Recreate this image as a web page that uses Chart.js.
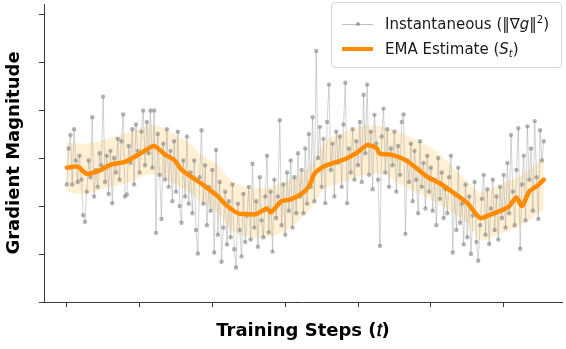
<!DOCTYPE html>
<html>
<head>
<meta charset="utf-8">
<script src="https://cdn.jsdelivr.net/npm/chart.js@4.4.1/dist/chart.umd.min.js"></script>
<style>
  body { margin: 0; background: #fff; }
  #wrap { position: relative; width: 566px; height: 349px; }
  #legendBox {
    position: absolute; left: 331px; top: 2px; width: 229px; height: 64px;
    border: 1px solid #d6d6d6; border-radius: 4px; background: rgba(255,255,255,0.85);
    font-family: 'DejaVu Sans', sans-serif; font-size: 15px; color: #1a1a1a;
  }
  .row { position: absolute; left: 0; height: 20px; line-height: 20px; white-space: nowrap; }
  .sample { position: absolute; left: 10px; width: 31px; }
  .lbl { position: absolute; left: 53px; top: 0; }
  sup { font-size: 10px; vertical-align: 6px; line-height: 0; }
  sub { font-size: 10px; vertical-align: -3px; line-height: 0; }
</style>
</head>
<body>
<div id="wrap">
  <canvas id="gradChart" width="566" height="349"></canvas>
  <div id="legendBox">
    <div class="row" style="top:11px">
      <div class="sample" style="top:10px;height:1px;background:rgba(150,150,150,0.6)"></div>
      <div class="sample" style="top:8px;left:24px;width:4px;height:4px;border-radius:2px;background:rgba(128,128,128,0.7)"></div>
      <span class="lbl">Instantaneous (&#8214;&#8711;<i>g</i>&#8214;<sup>2</sup>)</span>
    </div>
    <div class="row" style="top:36px">
      <div class="sample" style="top:8px;height:4px;background:#ff8c00"></div>
      <span class="lbl">EMA Estimate (<i>S</i><sub><i>t</i></sub>)</span>
    </div>
  </div>
</div>
<script>
// instantaneous squared-gradient norm, one value per training step
const instValues = [
  2.45, 3.20, 3.48, 2.45, 3.60, 2.95, 2.50, 3.05, 2.55, 1.81,
  1.67, 2.30, 2.95, 2.60, 3.85, 2.20, 2.75, 2.40, 3.10, 2.85,
  4.28, 2.50, 3.05, 2.25, 3.15, 2.06, 3.00, 2.70, 3.40, 2.55,
  3.35, 3.91, 2.20, 2.24, 3.25, 2.90, 3.60, 2.45, 3.70, 3.15,
  2.70, 3.55, 3.99, 2.85, 3.75, 3.10, 3.99, 2.80, 3.99, 1.44,
  3.50, 2.65, 1.73, 3.30, 2.55, 3.60, 2.40, 3.15, 2.10, 3.35,
  2.30, 3.55, 2.00, 1.65, 2.95, 2.20, 3.45, 2.05, 2.70, 1.85,
  2.95, 1.50, 1.01, 2.60, 3.58, 2.05, 2.85, 1.60, 2.40, 1.90,
  2.75, 1.03, 3.17, 1.40, 2.50, 0.84, 1.55, 2.30, 1.20, 2.10,
  1.35, 2.45, 1.10, 0.72, 2.05, 1.50, 0.95, 2.25, 1.25, 1.80,
  2.40, 1.30, 2.88, 1.55, 2.10, 1.15, 2.60, 1.70, 1.35, 2.20,
  3.05, 1.45, 2.30, 1.05, 2.55, 1.75, 2.20, 3.79, 1.60, 2.45,
  1.40, 2.70, 1.90, 2.95, 1.55, 2.60, 1.85, 3.10, 2.20, 2.75,
  1.85, 3.20, 2.05, 3.50, 2.40, 3.85, 2.10, 5.23, 3.00, 3.65,
  2.40, 3.40, 2.06, 3.75, 4.53, 2.75, 3.30, 2.20, 3.55, 2.90,
  3.45, 2.40, 3.70, 4.57, 2.06, 3.20, 2.70, 3.60, 2.55, 3.35,
  2.85, 3.75, 2.50, 4.32, 3.10, 4.53, 2.65, 3.55, 2.35, 3.90,
  3.30, 2.55, 1.17, 3.45, 4.03, 2.70, 3.60, 2.40, 3.20, 2.85,
  3.55, 2.30, 3.25, 2.65, 3.75, 3.91, 1.42, 2.95, 2.50, 3.30,
  2.10, 3.15, 2.55, 1.85, 3.35, 2.40, 2.90, 1.95, 3.05, 2.30,
  2.80, 1.90, 2.55, 1.60, 3.00, 2.15, 2.70, 1.75, 2.35, 1.85,
  2.60, 3.05, 1.03, 2.25, 1.50, 2.80, 1.65, 2.05, 1.20, 2.45,
  1.35, 2.20, 1.00, 1.80, 2.50, 1.25, 0.86, 1.60, 2.15, 2.65,
  1.40, 2.35, 1.21, 1.95, 2.55, 1.50, 2.20, 1.30, 2.40, 1.75,
  2.65, 1.55, 2.90, 1.85, 3.48, 2.30, 1.60, 2.75, 3.62, 1.11,
  2.45, 3.05, 1.70, 3.66, 2.55, 3.20, 1.90, 3.77, 2.60, 1.73,
  3.58, 2.95, 3.35
];

// EMA estimate read at knots
const emaSteps  = [0, 6, 11, 18, 24, 32, 37, 42, 48, 54, 59, 63, 70, 76, 83, 87, 94, 100, 104, 110,
                   112, 118, 123, 129, 133, 136, 141, 145, 153, 160, 165, 170, 172, 178, 186, 193, 198, 205, 213, 220,
                   227, 232, 240, 243, 247, 250, 254, 258, 262];
const emaValues = [2.80, 2.82, 2.67, 2.74, 2.86, 2.92, 3.02, 3.13, 3.25, 3.07, 2.96, 2.76, 2.57, 2.41, 2.20, 2.04, 1.85, 1.83, 1.83, 1.95,
                   1.87, 2.10, 2.14, 2.26, 2.41, 2.67, 2.82, 2.88, 2.98, 3.13, 3.27, 3.21, 3.09, 3.07, 2.96, 2.76, 2.61, 2.47, 2.26, 2.06,
                   1.75, 1.81, 1.93, 2.00, 2.18, 2.00, 2.30, 2.41, 2.55];

// shaded uncertainty band
const bandSteps = [0, 10, 22, 35, 47, 57, 67, 73, 83, 91, 105, 120, 134, 142, 153, 164, 175, 183, 202, 220, 227, 242, 252, 262];
const bandUpper = [3.33, 3.30, 3.40, 3.55, 3.70, 3.55, 3.33, 3.10, 2.85, 2.51, 2.37, 2.51, 2.85, 3.35, 3.55, 3.68, 3.65, 3.54, 3.17, 2.51, 2.30, 2.51, 2.70, 3.02];
const bandLower = [2.30, 2.25, 2.37, 2.50, 2.67, 2.50, 2.30, 2.10, 1.85, 1.48, 1.32, 1.48, 1.95, 2.37, 2.50, 2.65, 2.65, 2.45, 2.10, 1.63, 1.28, 1.48, 1.65, 1.93];

const xTickSteps = [0, 40, 80, 120, 160, 200, 240];
const yTickValues = [0, 1, 2, 3, 4, 5, 6];

const toPoints = (xs, ys) => ys.map((v, i) => ({x: xs[i], y: v}));
const instPoints = instValues.map((v, i) => ({x: i, y: v}));

const axisColor = '#3a3a3a';
const titleFont = {family: 'DejaVu Sans', size: 18, weight: 'bold'};

new Chart(document.getElementById('gradChart'), {
  type: 'line',
  data: {
    datasets: [
      {
        label: 'EMA Estimate',
        data: toPoints(emaSteps, emaValues),
        borderColor: '#ff8c00',
        borderWidth: 4.5,
        pointRadius: 0,
        tension: 0.25,
        borderCapStyle: 'round',
        borderJoinStyle: 'round',
        order: 0
      },
      {
        label: 'Instantaneous',
        data: instPoints,
        borderColor: 'rgba(150,150,150,0.42)',
        borderWidth: 1,
        pointRadius: 2.2,
        pointBorderWidth: 0,
        pointBackgroundColor: 'rgba(128,128,128,0.6)',
        tension: 0,
        order: 1
      },
      {
        label: 'band upper',
        data: toPoints(bandSteps, bandUpper),
        borderWidth: 0,
        borderColor: 'rgba(0,0,0,0)',
        pointRadius: 0,
        tension: 0.3,
        fill: false,
        order: 2
      },
      {
        label: 'band lower',
        data: toPoints(bandSteps, bandLower),
        borderWidth: 0,
        borderColor: 'rgba(0,0,0,0)',
        pointRadius: 0,
        tension: 0.3,
        fill: '-1',
        backgroundColor: 'rgba(255,165,0,0.17)',
        order: 3
      }
    ]
  },
  options: {
    responsive: false,
    animation: false,
    layout: { padding: 0 },
    plugins: { legend: { display: false }, tooltip: { enabled: false } },
    scales: {
      x: {
        type: 'linear',
        min: -12.5,
        max: 272,
        afterBuildTicks: s => { s.ticks = xTickSteps.map(v => ({value: v})); },
        afterFit: s => { s.height = 47; },
        ticks: { display: false },
        grid: { drawOnChartArea: false, drawTicks: true, tickLength: 5, tickColor: axisColor },
        border: { display: true, color: axisColor, width: 1 },
        title: { display: true, text: 'Training Steps (𝑡)', font: titleFont, color: '#000', padding: {top: 0, bottom: 7} }
      },
      y: {
        type: 'linear',
        min: 0,
        max: 6.21,
        afterBuildTicks: s => { s.ticks = yTickValues.map(v => ({value: v})); },
        afterFit: s => { s.width = 44; },
        ticks: { display: false },
        grid: { drawOnChartArea: false, drawTicks: true, tickLength: 5, tickColor: axisColor },
        border: { display: true, color: axisColor, width: 1 },
        title: { display: true, text: 'Gradient Magnitude', font: titleFont, color: '#000', padding: {top: 4, bottom: 0} }
      }
    }
  }
});
</script>
</body>
</html>
